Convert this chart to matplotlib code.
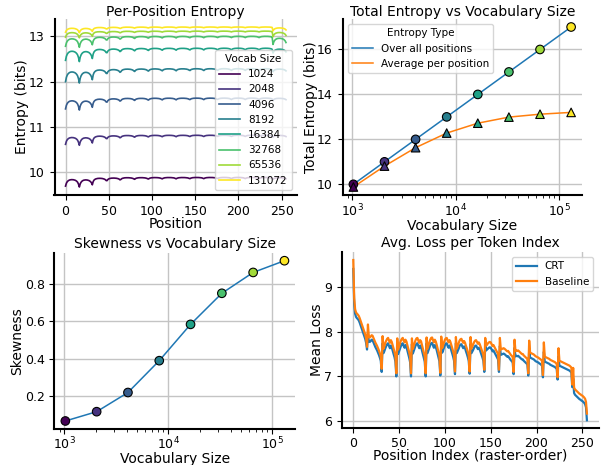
import numpy as np
import matplotlib
matplotlib.use("Agg")
import matplotlib.pyplot as plt

# ---------------- data ----------------
vocab_sizes = [1024, 2048, 4096, 8192, 16384, 32768, 65536, 131072]
entropy_overall = [10.0, 11.0, 12.0, 13.0, 14.0, 15.0, 16.0, 17.0]
entropy_avg = [9.88, 10.81, 11.63, 12.28, 12.72, 12.99, 13.12, 13.20]
skewness = [0.065, 0.115, 0.218, 0.389, 0.584, 0.751, 0.863, 0.926]

# per-position entropy: plateau level, dip at row starts, within-row arch, row dip weights
entropy_level = [9.90, 10.83, 11.65, 12.30, 12.75, 13.01, 13.12, 13.21]
entropy_start_dip = [0.20, 0.21, 0.25, 0.30, 0.28, 0.23, 0.14, 0.12]
entropy_last_row_dip = [0.05, 0.05, 0.06, 0.08, 0.12, 0.19, 0.13, 0.09]
row_dip_weight = [1.0, 1.1, 0.5, 0.4, 0.27, 0.25, 0.22, 0.2, 0.2, 0.18, 0.18,
                  0.17, 0.17, 0.17, 0.17]
arch_profile = [1.0, 0.68, 0.52, 0.42, 0.36, 0.32, 0.30, 0.29, 0.29, 0.30, 0.32,
                0.35, 0.40, 0.47, 0.58, 0.78]

# mean loss per token index (16 rows x 16 columns, raster order)
baseline_rows = [
    [9.60, 8.75, 8.50, 8.43, 8.40, 8.38, 8.35, 8.30, 8.24, 8.18, 8.12, 8.06, 8.00, 7.94, 7.85, 7.66],
    [8.16, 7.88, 7.87, 7.89, 7.92, 7.91, 7.86, 7.81, 7.76, 7.72, 7.68, 7.63, 7.58, 7.52, 7.45, 7.17],
    [7.90, 7.62, 7.68, 7.75, 7.80, 7.84, 7.86, 7.80, 7.75, 7.81, 7.77, 7.69, 7.62, 7.55, 7.45, 7.07],
    [7.85, 7.60, 7.67, 7.74, 7.80, 7.84, 7.86, 7.80, 7.76, 7.82, 7.78, 7.70, 7.62, 7.54, 7.44, 7.07],
    [7.85, 7.61, 7.68, 7.75, 7.81, 7.85, 7.86, 7.80, 7.75, 7.81, 7.78, 7.70, 7.62, 7.55, 7.45, 7.07],
    [7.87, 7.62, 7.69, 7.76, 7.82, 7.86, 7.87, 7.81, 7.76, 7.82, 7.78, 7.71, 7.63, 7.56, 7.46, 7.08],
    [7.89, 7.63, 7.69, 7.76, 7.82, 7.85, 7.86, 7.80, 7.76, 7.81, 7.77, 7.70, 7.63, 7.56, 7.47, 7.11],
    [7.88, 7.62, 7.68, 7.74, 7.80, 7.83, 7.84, 7.79, 7.75, 7.79, 7.75, 7.68, 7.62, 7.55, 7.47, 7.11],
    [7.88, 7.62, 7.67, 7.72, 7.77, 7.80, 7.81, 7.77, 7.73, 7.76, 7.72, 7.66, 7.60, 7.54, 7.47, 7.15],
    [7.86, 7.69, 7.71, 7.74, 7.76, 7.77, 7.76, 7.72, 7.68, 7.70, 7.66, 7.62, 7.58, 7.54, 7.50, 7.15],
    [7.86, 7.60, 7.61, 7.62, 7.63, 7.62, 7.60, 7.58, 7.56, 7.57, 7.54, 7.51, 7.48, 7.46, 7.43, 7.10],
    [7.82, 7.57, 7.58, 7.57, 7.58, 7.56, 7.54, 7.52, 7.50, 7.50, 7.47, 7.45, 7.43, 7.41, 7.39, 7.07],
    [7.80, 7.53, 7.52, 7.51, 7.50, 7.49, 7.47, 7.45, 7.44, 7.43, 7.42, 7.40, 7.39, 7.37, 7.35, 7.03],
    [7.76, 7.44, 7.43, 7.42, 7.41, 7.40, 7.39, 7.37, 7.36, 7.35, 7.34, 7.33, 7.32, 7.30, 7.28, 6.98],
    [7.63, 7.35, 7.34, 7.33, 7.32, 7.31, 7.30, 7.29, 7.28, 7.27, 7.26, 7.25, 7.24, 7.22, 7.20, 6.82],
    [7.19, 6.75, 6.71, 6.69, 6.67, 6.65, 6.63, 6.61, 6.60, 6.58, 6.57, 6.55, 6.53, 6.50, 6.43, 6.17],
]
crt_rows = [
    [9.40, 8.62, 8.40, 8.33, 8.30, 8.28, 8.25, 8.20, 8.14, 8.08, 8.02, 7.96, 7.90, 7.84, 7.75, 7.60],
    [7.95, 7.78, 7.77, 7.79, 7.82, 7.81, 7.76, 7.71, 7.66, 7.62, 7.58, 7.53, 7.48, 7.42, 7.35, 7.10],
    [7.74, 7.52, 7.57, 7.63, 7.68, 7.72, 7.74, 7.68, 7.63, 7.69, 7.65, 7.57, 7.50, 7.43, 7.33, 7.00],
    [7.72, 7.50, 7.56, 7.62, 7.68, 7.72, 7.74, 7.68, 7.64, 7.70, 7.66, 7.58, 7.50, 7.42, 7.32, 7.00],
    [7.72, 7.51, 7.57, 7.63, 7.69, 7.73, 7.74, 7.68, 7.63, 7.69, 7.66, 7.58, 7.50, 7.43, 7.33, 7.00],
    [7.74, 7.52, 7.58, 7.64, 7.70, 7.74, 7.75, 7.69, 7.64, 7.70, 7.66, 7.59, 7.51, 7.44, 7.34, 7.02],
    [7.75, 7.53, 7.58, 7.64, 7.70, 7.73, 7.74, 7.68, 7.64, 7.69, 7.65, 7.58, 7.51, 7.44, 7.35, 7.05],
    [7.74, 7.52, 7.57, 7.62, 7.68, 7.71, 7.72, 7.67, 7.63, 7.67, 7.63, 7.56, 7.50, 7.43, 7.35, 7.06],
    [7.73, 7.52, 7.56, 7.60, 7.65, 7.68, 7.69, 7.65, 7.61, 7.64, 7.60, 7.54, 7.48, 7.42, 7.35, 7.10],
    [7.70, 7.58, 7.60, 7.62, 7.64, 7.65, 7.64, 7.60, 7.56, 7.58, 7.54, 7.50, 7.46, 7.42, 7.38, 7.10],
    [7.68, 7.48, 7.49, 7.50, 7.51, 7.50, 7.48, 7.46, 7.44, 7.45, 7.42, 7.39, 7.36, 7.34, 7.31, 7.05],
    [7.64, 7.45, 7.46, 7.45, 7.46, 7.44, 7.42, 7.40, 7.38, 7.38, 7.35, 7.33, 7.31, 7.29, 7.27, 7.02],
    [7.60, 7.42, 7.41, 7.40, 7.39, 7.38, 7.36, 7.34, 7.33, 7.32, 7.31, 7.29, 7.28, 7.26, 7.24, 6.98],
    [7.55, 7.33, 7.32, 7.31, 7.30, 7.29, 7.28, 7.26, 7.25, 7.24, 7.23, 7.22, 7.21, 7.19, 7.17, 6.93],
    [7.45, 7.24, 7.23, 7.22, 7.21, 7.20, 7.19, 7.18, 7.17, 7.16, 7.15, 7.14, 7.13, 7.11, 7.09, 6.76],
    [6.95, 6.63, 6.59, 6.57, 6.55, 6.53, 6.51, 6.49, 6.48, 6.46, 6.45, 6.43, 6.41, 6.38, 6.31, 6.02],
]

# ---------------- style ----------------
plt.rcParams.update({
    "font.family": "DejaVu Sans",
    "font.size": 10,
    "axes.titlesize": 10,
    "axes.labelsize": 10,
    "xtick.labelsize": 9,
    "ytick.labelsize": 9,
    "legend.fontsize": 7.5,
    "legend.title_fontsize": 7.5,
    "axes.linewidth": 1.5,
    "grid.color": "#c4c4c4",
    "grid.linewidth": 1.0,
})

W, H = 602, 465
fig = plt.figure(figsize=(W / 100, H / 100), dpi=100)


def px_axes(x0, y0, x1, y1):
    return fig.add_axes([x0 / W, 1 - y1 / H, (x1 - x0) / W, (y1 - y0) / H])


def style(ax):
    ax.spines["top"].set_visible(False)
    ax.spines["right"].set_visible(False)
    ax.grid(True)
    ax.set_axisbelow(True)


colors = plt.cm.viridis(np.linspace(0, 1, len(vocab_sizes)))

# ---------- Per-position entropy ----------
ax1 = px_axes(54.5, 19, 297, 195)
style(ax1)
positions = np.arange(256)
rows = positions // 16
cols = positions % 16
arch = np.array(arch_profile)[cols]
for i, v in enumerate(vocab_sizes):
    row_dips = [entropy_start_dip[i] * w for w in row_dip_weight] + [entropy_last_row_dip[i]]
    dip = np.array(row_dips)[rows]
    ent = entropy_level[i] - dip * arch
    ax1.plot(positions, ent, color=colors[i], lw=1.2, label=str(v))
ax1.set_title("Per-Position Entropy", pad=1.5)
ax1.set_xlabel("Position", labelpad=-0.5)
ax1.set_ylabel("Entropy (bits)", labelpad=-0.3)
ax1.set_yticks([10, 11, 12, 13])
ax1.legend(title="Vocab Size", loc="lower right")

# ---------- Total entropy vs vocab ----------
ax2 = px_axes(342.5, 19, 582, 195)
style(ax2)
ax2.set_xscale("log")
ax2.plot(vocab_sizes, entropy_overall, color="#1f77b4", lw=1.1, label="Over all positions", zorder=2)
ax2.plot(vocab_sizes, entropy_avg, color="#ff7f0e", lw=1.1, label="Average per position", zorder=2)
ax2.scatter(vocab_sizes, entropy_overall, c=colors, marker="o", s=38, edgecolors="black",
            linewidths=0.8, zorder=3)
ax2.scatter(vocab_sizes, entropy_avg, c=colors, marker="^", s=38, edgecolors="black",
            linewidths=0.8, zorder=3)
ax2.set_title("Total Entropy vs Vocabulary Size", pad=2.5)
ax2.tick_params(axis="x", pad=2)
ax2.set_xlabel("Vocabulary Size", labelpad=-0.3)
ax2.set_ylabel("Total Entropy (bits)", labelpad=-1)
ax2.set_yticks([10, 12, 14, 16])
ax2.legend(title="Entropy Type", loc="upper left")

# ---------- Skewness ----------
ax3 = px_axes(54.4, 252.7, 295.4, 429)
style(ax3)
ax3.set_xscale("log")
ax3.plot(vocab_sizes, skewness, color="#1f77b4", lw=1.1, zorder=2)
ax3.scatter(vocab_sizes, skewness, c=colors, marker="o", s=38, edgecolors="black",
            linewidths=0.8, zorder=3)
ax3.set_title("Skewness vs Vocabulary Size", pad=3.5)
ax3.tick_params(axis="x", pad=1)
ax3.set_xlabel("Vocabulary Size", labelpad=0)
ax3.set_ylabel("Skewness", labelpad=0.4)
ax3.set_yticks([0.2, 0.4, 0.6, 0.8])

# ---------- Avg loss per token index ----------
ax4 = px_axes(341.6, 252, 598.6, 428.3)
style(ax4)
crt = np.concatenate(crt_rows)
base = np.concatenate(baseline_rows)
idx = np.arange(len(crt))
ax4.plot(idx, crt, color="#1f77b4", lw=1.6, label="CRT")
ax4.plot(idx, base, color="#ff7f0e", lw=1.6, label="Baseline")
ax4.set_title("Avg. Loss per Token Index", pad=3.5)
ax4.tick_params(axis="x", pad=2.5)
ax4.set_xlabel("Position Index (raster-order)", labelpad=-0.5)
ax4.set_ylabel("Mean Loss", labelpad=-0.3)
ax4.set_yticks([6, 7, 8, 9])
ax4.legend(loc="upper right")

fig.savefig("out.png", dpi=100)
